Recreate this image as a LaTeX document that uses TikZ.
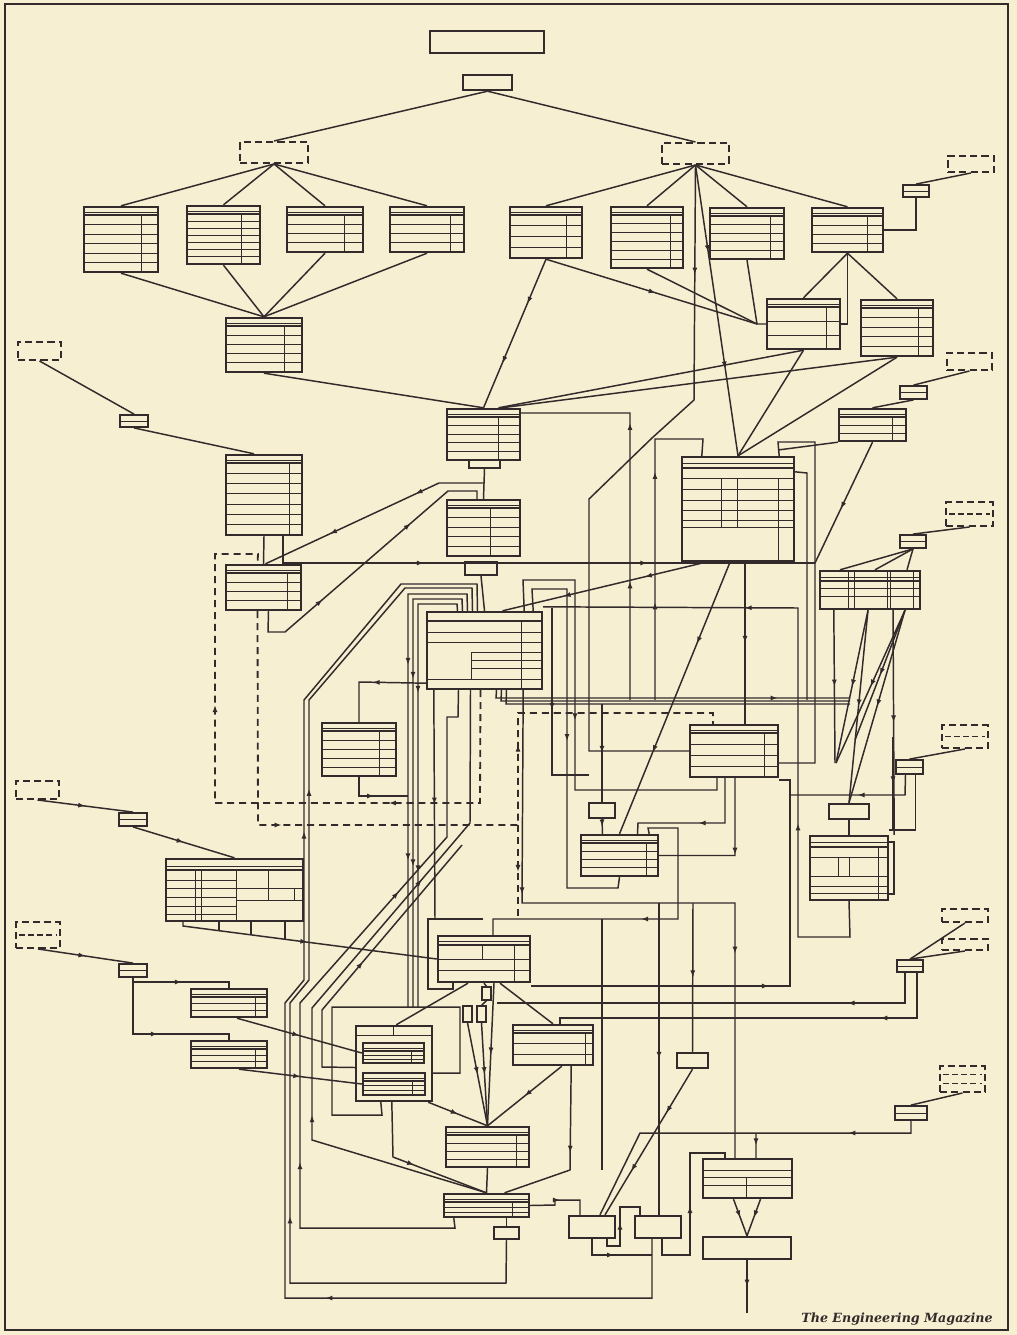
\documentclass[tikz,border=0pt]{standalone}
\usepackage{fontspec}
\usetikzlibrary{arrows.meta, positioning, calc, fit, decorations.markings}
\newfontfamily\creditfont{DejaVu Serif}
\definecolor{paper}{HTML}{F6EFD2}
\definecolor{ink}{HTML}{332B2B}

\tikzset{
  formbox/.style={draw=ink, line width=1.7pt, inner sep=0pt},
  plainbox/.style={draw=ink, line width=1.7pt, inner sep=0pt},
  slip/.style={draw=ink, line width=1.4pt, dash pattern=on 5pt off 3pt, inner sep=0pt},
  slipline/.style={draw=ink, line width=1.1pt, dash pattern=on 4pt off 2.5pt},
  rule/.style={draw=ink, line width=0.7pt},
  wire/.style={draw=ink, line width=1.05pt},
  dwire/.style={draw=ink, line width=1.3pt, dash pattern=on 5pt off 3.5pt},
  flow/.style={postaction={decorate}, decoration={markings,
      mark=at position #1 with {\arrow[ink]{Latex[length=5pt,width=3.6pt]}}}},
  flow/.default=0.5,
  flow2/.style={postaction={decorate}, decoration={markings,
      mark=at position 0.3 with {\arrow[ink]{Latex[length=5pt,width=3.6pt]}},
      mark=at position 0.7 with {\arrow[ink]{Latex[length=5pt,width=3.6pt]}}}},
  credit/.style={text=ink, inner sep=0pt, font=\creditfont\fontsize{9}{11}\selectfont\bfseries\itshape}
}

% ruled form: name, x1, y1, x2, y2, rows, position of the column rule
\newcommand{\formbox}[7]{%
  \node[formbox, fit={(#2,#3) (#4,#5)}] (#1) {};
  \draw[rule] (#2,#3+5) -- (#4,#3+5);
  \draw[rule, line width=1.2pt] (#2,#3+8) -- (#4,#3+8);
  \foreach \k in {1,...,#6}
    \draw[rule] (#2,{#3+8+\k*(#5-#3-8)/(#6+1)}) -- (#4,{#3+8+\k*(#5-#3-8)/(#6+1)});
  \draw[rule] ({#2+#7*(#4-#2)},#3+8) -- ({#2+#7*(#4-#2)},#5);
}
% dashed slip: name, x1, y1, x2, y2, inner rows
\newcommand{\slipbox}[6]{%
  \node[slip, fit={(#2,#3) (#4,#5)}] (#1) {};
  \ifnum#6>0
    \foreach \k in {1,...,#6}
      \draw[slipline] (#2+3,{#3+\k*(#5-#3)/(#6+1)}) -- (#4-3,{#3+\k*(#5-#3)/(#6+1)});
  \fi
}
% small tab with a middle rule
\newcommand{\tabbox}[5]{%
  \node[plainbox, line width=1.3pt, fit={(#2,#3) (#4,#5)}] (#1) {};
  \draw[rule] (#2,{(#3+#5)/2}) -- (#4,{(#3+#5)/2});
}

\begin{document}
\begin{tikzpicture}[x=0.025cm, y=-0.025cm]
  \useasboundingbox (0,0) rectangle (1017,1335);
  \fill[paper] (0,0) rectangle (1017,1335);
  \draw[ink, line width=2pt] (5,4) rectangle (1008,1330);

  % plain boxes
  \node[plainbox, fit={(430,31) (544,53)}] (title) {};
  \node[plainbox, fit={(463,75) (512,90)}] (head) {};
  \node[plainbox, fit={(589,803) (615,818)}] (O) {};
  \node[plainbox, fit={(829,804) (869,819)}] (Q) {};
  \node[plainbox, fit={(677,1053) (708,1068)}] (AC) {};
  \node[plainbox, fit={(569,1216) (615,1238)}] (Z1) {};
  \node[plainbox, fit={(635,1216) (681,1238)}] (Z2) {};
  \node[plainbox, fit={(703,1237) (791,1259)}] (final) {};
  \node[plainbox, line width=1.3pt, fit={(494,1227) (519,1239)}] (Ysmall) {};
  \node[plainbox, line width=1.3pt, fit={(469,460) (500,468)}] (H1tab) {};
  \node[plainbox, line width=1.3pt, fit={(465,562) (497,575)}] (H2tab) {};
  \node[plainbox, line width=1pt, fit={(463,1006) (472,1022)}] (tinyA) {};
  \node[plainbox, line width=1pt, fit={(477,1006) (486,1022)}] (tinyB) {};
  \node[plainbox, line width=1pt, fit={(482,987) (491,1000)}] (tinyC) {};

  % dashed slips
  \slipbox{dL}{240}{142}{308}{163}{0}
  \slipbox{dR}{662}{143}{729}{164}{0}
  \slipbox{dTR}{948}{156}{994}{172}{0}
  \slipbox{dL2}{18}{342}{61}{360}{0}
  \slipbox{dR2}{947}{353}{992}{370}{0}
  \slipbox{dR3}{946}{502}{993}{526}{1}
  \slipbox{dR4}{942}{725}{988}{748}{1}
  \slipbox{dL3}{16}{781}{59}{799}{0}
  \slipbox{dL4}{16}{922}{60}{948}{1}
  \slipbox{dR5a}{942}{909}{988}{922}{0}
  \slipbox{dR5b}{942}{939}{988}{950}{0}
  \slipbox{dR6}{940}{1066}{985}{1092}{2}

  % tabs
  \tabbox{tTR}{903}{185}{929}{197}
  \tabbox{tL2}{120}{415}{148}{427}
  \tabbox{tR2}{900}{386}{927}{399}
  \tabbox{tR3}{900}{535}{926}{548}
  \tabbox{tR4}{896}{760}{923}{774}
  \tabbox{tL3}{119}{813}{147}{826}
  \tabbox{tL4}{119}{964}{147}{977}
  \tabbox{tR5}{897}{960}{923}{972}
  \tabbox{tR6}{895}{1106}{927}{1120}

  % ruled forms
  \formbox{A1}{84}{207}{158}{272}{5}{0.78}
  \formbox{A2}{187}{206}{260}{264}{6}{0.75}
  \formbox{A3}{287}{207}{363}{252}{3}{0.76}
  \formbox{A4}{390}{207}{464}{252}{3}{0.82}
  \formbox{B1}{510}{207}{582}{258}{3}{0.78}
  \formbox{B2}{611}{207}{683}{268}{5}{0.82}
  \formbox{B3}{710}{208}{784}{259}{4}{0.82}
  \formbox{B4}{812}{208}{883}{252}{3}{0.78}
  \formbox{C}{226}{318}{302}{372}{4}{0.77}
  \formbox{D1}{767}{299}{840}{349}{2}{0.82}
  \formbox{D2}{861}{300}{933}{356}{4}{0.8}
  \formbox{H1}{447}{409}{520}{460}{4}{0.7}
  \formbox{E}{839}{409}{906}{441}{2}{0.8}
  \formbox{F}{226}{455}{302}{535}{6}{0.83}
  \formbox{H2}{447}{500}{520}{556}{4}{0.6}
  \formbox{G}{226}{565}{301}{610}{3}{0.82}
  \formbox{J}{322}{723}{396}{776}{4}{0.78}
  \formbox{N}{690}{725}{778}{777}{3}{0.85}
  \formbox{P}{581}{835}{658}{876}{3}{0.85}
  \formbox{T1}{191}{989}{267}{1017}{2}{0.85}
  \formbox{T2}{191}{1041}{267}{1068}{2}{0.85}
  \formbox{V1}{363}{1043}{424}{1063}{2}{0.8}
  \formbox{V2}{363}{1073}{425}{1095}{2}{0.8}
  \formbox{W}{513}{1025}{593}{1065}{2}{0.9}
  \formbox{X}{446}{1127}{529}{1167}{3}{0.85}
  \formbox{Y}{444}{1194}{529}{1217}{2}{0.8}

  % K
  \node[formbox, fit={(682,457) (794,561)}] (K) {};
  \draw[rule] (682,463) -- (794,463);
  \draw[rule, line width=1.2pt] (682,468) -- (794,468);
  \foreach \yy in {478,489,500,510,520,527} \draw[rule] (682,\yy) -- (794,\yy);
  \draw[rule] (721,478) -- (721,527); \draw[rule] (737,478) -- (737,527);
  \draw[rule] (778,478) -- (778,561);
  % I
  \node[formbox, fit={(427,612) (542,689)}] (I) {};
  \draw[rule, line width=1.2pt] (427,621) -- (542,621);
  \foreach \yy in {632,642,679} \draw[rule] (427,\yy) -- (542,\yy);
  \foreach \yy in {652,660,668} \draw[rule] (471,\yy) -- (542,\yy);
  \draw[rule] (471,652) -- (471,679); \draw[rule] (521,621) -- (521,689);
  % S
  \node[formbox, fit={(166,859) (303,921)}] (S) {};
  \draw[rule] (166,866) -- (303,866);
  \draw[rule, line width=1.2pt] (166,870) -- (303,870);
  \foreach \yy in {880,888,897,906,914} \draw[rule] (166,\yy) -- (236,\yy);
  \foreach \yy in {888,900} \draw[rule] (236,\yy) -- (303,\yy);
  \foreach \xx in {195,201,236} \draw[rule] (\xx,870) -- (\xx,921);
  \draw[rule] (268,870) -- (268,900); \draw[rule] (294,888) -- (294,900);
  % M
  \node[formbox, fit={(820,571) (920,609)}] (M) {};
  \draw[rule] (820,577) -- (920,577);
  \draw[rule, line width=1.2pt] (820,581) -- (920,581);
  \foreach \yy in {588,596} \draw[rule] (820,\yy) -- (920,\yy);
  \foreach \xx in {848,854,887,890,913} \draw[rule] (\xx,571) -- (\xx,609);
  % U
  \node[formbox, fit={(438,936) (530,982)}] (U) {};
  \draw[rule] (438,941) -- (530,941);
  \draw[rule, line width=1.2pt] (438,945) -- (530,945);
  \foreach \yy in {959,970} \draw[rule] (438,\yy) -- (530,\yy);
  \draw[rule] (482,945) -- (482,959); \draw[rule] (514,945) -- (514,982);
  % R
  \node[formbox, fit={(810,836) (888,900)}] (R) {};
  \draw[rule] (810,842) -- (888,842);
  \draw[rule, line width=1.2pt] (810,847) -- (888,847);
  \foreach \yy in {857,876,886,893} \draw[rule] (810,\yy) -- (888,\yy);
  \draw[rule] (838,857) -- (838,876); \draw[rule] (849,857) -- (849,876);
  \draw[rule] (878,847) -- (878,900);
  \draw[rule, line width=1.1pt] (888,842) -- (894,842) -- (894,894) -- (888,894);
  % AA
  \node[formbox, fit={(703,1159) (792,1198)}] (AA) {};
  \foreach \yy in {1170,1177,1185} \draw[rule] (703,\yy) -- (792,\yy);
  \draw[rule] (746,1177) -- (746,1198);
  % V
  \node[formbox, fit={(356,1026) (432,1101)}] (V) {};
  \draw[rule] (356,1035) -- (432,1035); \draw[rule] (393,1026) -- (393,1035);

  \node[credit, anchor=base east] (credit) at (993,1322) {The Engineering Magazine};

  % top tree
  \draw[wire] (head.south) -- (dL.north);
  \draw[wire] (head.south) -- (dR.north);
  \foreach \n in {A1,A2,A3,A4} {
    \draw[wire] (dL.south) -- (\n.north);
    \draw[wire] (\n.south) -- (C.north);
  }
  \foreach \n in {B1,B2,B3,B4} \draw[wire] (dR.south) -- (\n.north);
  \draw[wire] (dTR.south) -- (tTR.north);
  \draw[wire] (tTR.south) |- (B4.east);
  \draw[wire] (B4.south) -- (D1.north);
  \draw[wire] (B4.south) -- (D2.north);
  \draw[wire] (B4.south) |- (D1.east);
  \draw[wire, flow] (B1.south) -- (757,324) -- (D1.west);
  \draw[wire] (B2.south) -- (757,324);
  \draw[wire] (B3.south) -- (757,324);
  \draw[wire, flow2] (B1.south) -- (H1.north);
  \draw[wire] (C.south) -- (H1.north);
  \draw[wire] (D1.south) -- ($(H1.north)+(15,0)$);
  \draw[wire] (D2.south) -- ($(H1.north)+(18,0)$);
  \draw[wire] (D1.south) -- (K.north);
  \draw[wire] (D2.south) -- (K.north);
  \draw[wire, flow2] (dR.south) -- (K.north);
  \draw[wire, flow=0.15] (dR.south) -- (694,400) -- (652,438) -- (589,499) -- (589,751) -- (N.west);

  % right tabs
  \draw[wire] (dR2.south) -- (tR2.north);
  \draw[wire] (tR2.south) -- (E.north);
  \draw[wire, flow=0.2] (E.south) -- (815,563) -- (815,763) -- ($(N.east)+(0,12)$);
  \draw[wire] (E.south west) -- (778,450);
  \draw[wire, flow2] ($(F.south)+(19,0)$) -- (283,563) -- (815,563);
  \draw[wire] (dR3.south) -- (tR3.north);
  \foreach \dx in {-30,5,37} \draw[wire] (tR3.south) -- ($(M.north)+(\dx,0)$);
  \draw[wire, flow] ($(M.south)+(-2,0)$) -- (Q.north);
  \draw[wire, flow] ($(M.south)+(35,0)$) -- (Q.north);
  \draw[wire, flow] ($(M.south)+(-2,0)$) -- (836,763);
  \draw[wire, flow] ($(M.south)+(35,0)$) -- (836,763);
  \draw[wire, flow] ($(M.south)+(35,0)$) -- (855,740);
  \draw[wire, flow] ($(M.south west)+(15,0)$) -- (835,763);
  \draw[wire, flow] ($(M.south)+(23,0)$) -- ($(R.north east)+(5,0)$);
  \draw[wire] (dR4.south) -- (tR4.north);
  \draw[wire, flow] ($(tR4.south)+(-4,0)$) -- (905,795) -- (790,795);
  \draw[wire] ($(tR4.south)+(6,0)$) |- ($(R.east)+(0,-38)$);
  \draw[wire] (Q.south) -- (R.north);
  \draw[wire, flow2] (R.south) -- (850,937) -- (798,937) -- (798,608) -- ($(I.north east)+(0,-4)$);

  % K links
  \draw[wire, flow2] ($(K.south)+(-8,0)$) -- (P.north);
  \draw[wire, flow] ($(K.south)+(7,0)$) -- ($(N.north)+(11,0)$);
  \draw[wire, flow2] ($(K.south west)+(25,0)$) -- ($(I.north)+(18,0)$);
  \draw[wire, flow2] (655,700) -- (655,439) -- (703,439) -- ($(K.north west)+(21,0)$);
  \draw[wire, flow2] (630,700) -- (630,413) -- ($(H1.east)+(0,-21.5)$);
  \draw[wire] ($(K.north east)+(-16,0)$) -- (778,442) -- (815,442) -- (815,563);
  \draw[wire] ($(K.north east)+(0,16)$) -- (807,473) -- (807,700);

  % H1, H2, F, G
  \draw[wire] (H1tab.south) -- (H2.north);
  \draw[wire] (H2tab.south) -- (I.north);
  \draw[wire, flow2] (484,483) -- (439,483) -- ($(G.north)+(2,0)$);
  \draw[wire, flow2] ($(G.south)+(5,0)$) -- (268,632) -- (285,632) -- (448,491) -- (477,491) -- (477,500);
  \draw[wire] (dL2.south) -- (tL2.north);
  \draw[wire] (tL2.south) -- ($(F.north)+(-10,0)$);
  \draw[wire] (F.south) -- (G.north);

  % dashed returns
  \draw[dwire, flow2] ($(I.south)+(-4,0)$) -- (480,803) -- (215,803) -- (215,554) -- (258,554) -- ($(G.north)+(-6,0)$);
  \draw[dwire, flow2] ($(G.south)+(-6,0)$) -- (258,825) -- (518,825) -- (518,713) -- (713,713) -- ($(N.north)+(-21,0)$);
  \draw[dwire, flow] (518,825) -- (518,919);

  % bundle round the left
  \draw[wire, flow2] (Ysmall.south) -- (506,1283) -- (290,1283) -- (290,1003) -- (309,980) -- (309,700) -- (405,588) -- (472,588) -- ($(I.north)+(-12,0)$);
  \draw[wire, flow2] ($(Z2.south)+(-6,0)$) -- (652,1298) -- (285,1298) -- (285,1003) -- (304,980) -- (304,700) -- (401,584) -- (477,584) -- ($(I.north)+(-7,0)$);
  \draw[wire, flow2] ($(I.north)+(-17,0)$) -- (467,594) -- (408,594) -- (408,1007);
  \draw[wire, flow2] ($(I.north)+(-22,0)$) -- (462,599) -- (413,599) -- (413,1007);
  \draw[wire, flow2] ($(I.north)+(-27,0)$) -- (457,604) -- (418,604) -- (418,1007);
  \draw[wire, flow] ($(I.south west)+(0,-7)$) -- (359,682) -- (J.north);
  \draw[wire, flow] (J.south) -- (359,796) -- (408,796);
  \draw[wire] ($(V.south west)+(26,0)$) -- (382,1115) -- (332,1115) -- (332,1007) -- (460,1007) -- (460,1073) -- ($(V.east)+(0,9.5)$);
  \draw[wire, flow2] ($(Y.south west)+(11,0)$) -- (455,1228) -- (300,1228) -- (300,1003) -- (447,837) -- (447,717) -- (458,717) -- ($(I.south)+(-26,0)$);
  \draw[wire, flow2] (Y.north) -- (312,1140) -- (312,1008) -- (453,843) -- (470,823) -- ($(I.south)+(-14,0)$);
  \draw[wire, flow] ($(V.west)+(0,4)$) -- (322,1067) -- (322,1010) -- (462,845);
  \draw[wire, flow] ($(I.south west)+(8,0)$) -- (435,919);
  \draw[wire] (483,919) -- (428,919) -- (428,989) -- (453,989) -- ($(U.south)+(-31,0)$);

  % left feeds
  \draw[wire, flow] (dL3.south) -- (tL3.north);
  \draw[wire, flow] (tL3.south) -- (S.north);
  \foreach \sx/\sy in {219/931,251/935,285/939} \draw[wire] (\sx,921) -- (\sx,\sy);
  \draw[wire, flow] (183,921) -- (183,926) -- (U.west);
  \draw[wire, flow] (dL4.south) -- (tL4.north);
  \draw[wire, flow] (tL4.south) -- (133,982) -- (229,982) -- (T1.north);
  \draw[wire, flow] (133,982) -- (133,1034) -- (229,1034) -- (T2.north);
  \draw[wire, flow] ($(T1.south)+(8,0)$) -- (V1.west);
  \draw[wire, flow] ($(T2.south)+(10,0)$) -- (V2.west);

  % centre bottom
  \draw[wire] ($(V.north east)+(-37,0)$) -- ($(U.south)+(-16,0)$);
  \draw[wire] ($(U.south)+(16,0)$) -- (W.north);
  \draw[wire] (tinyC.north) -- (U.south);
  \draw[wire] (tinyC.south) -- (tinyB.north);
  \draw[wire, flow] (tinyA.south) -- (X.north);
  \draw[wire, flow] (tinyB.south) -- (X.north);
  \draw[wire, flow] ($(U.south)+(10,0)$) -- (X.north);
  \draw[wire, flow] ($(V.south east)+(-5,0)$) -- (X.north);
  \draw[wire, flow] ($(W.south west)+(50,0)$) -- (X.north);
  \draw[wire] (X.south) -- (Y.north);
  \draw[wire, flow] ($(V.south west)+(37,0)$) -- (393,1157) -- (Y.north);
  \draw[wire, flow] ($(W.south east)+(-23,0)$) -- (570,1170) -- ($(Y.north)+(18,0)$);
  \draw[wire] ($(Y.south)+(20,0)$) -- (Ysmall.north);

  % bottom right
  \draw[wire, flow] (Y.east) -- (555,1205) -- (555,1200) -- (580,1200) -- ($(Z1.north)+(-12,0)$);
  \draw[wire, flow] ($(Z1.south)+(15,0)$) -- (607,1246) -- (620,1246) -- (620,1207) -- (640,1207) -- ($(Z2.north)+(-18,0)$);
  \draw[wire, flow] (Z1.south) -- (592,1255) -- (652,1255);
  \draw[wire, flow] ($(Z2.south)+(4,0)$) -- (662,1255) -- (690,1255) -- (690,1153) -- (725,1153) -- ($(AA.north)+(-22.5,0)$);
  \draw[wire, flow] ($(AA.south)+(-14,0)$) -- (final.north);
  \draw[wire, flow] ($(AA.south)+(13,0)$) -- (final.north);
  \draw[wire, flow] (final.south) -- ++(0,53);
  \draw[wire] (dR5a.south) -- (tR5.north);
  \draw[wire] (dR5b.south) -- (tR5.north);
  \draw[wire, flow=0.2] ($(tR5.south)+(-5,0)$) -- (905,1003) -- (497,1003);
  \draw[wire, flow=0.2] ($(tR5.south)+(7,0)$) -- (917,1018) -- (560,1018) -- (560,1025);
  \draw[wire] (dR6.south) -- (tR6.north);
  \draw[wire, flow=0.2] (tR6.south) -- (911,1133) -- (640,1133) -- ($(Z1.north)+(8,0)$);
  \draw[wire, flow] (756,1133) -- ($(AA.north)+(8.5,0)$);
  \draw[wire, flow2] (AC.south) -- ($(Z1.north)+(13,0)$);

  % middle buses
  \draw[wire, flow2] ($(I.south east)+(-20,0)$) -- (522,903) -- (735,903) -- ($(AA.north)+(-12.5,0)$);
  \draw[wire, flow] (693,903) -- (AC.north);
  \draw[wire, flow] (659,903) -- ($(Z2.north)+(1,0)$);
  \draw[wire, flow] ($(P.north east)+(-10,0)$) -- (648,828) -- (678,828) -- (678,919) -- (493,919) -- ($(U.north)+(9,0)$);
  \draw[wire] (602,919) -- (602,1170);
  \draw[wire, flow] ($(U.east)+(0,27)$) -- (790,986) -- (790,780) -- ($(N.east)+(0,29)$);
  \draw[wire, flow] ($(N.south)+(-9,0)$) -- (725,823) -- (638,823) -- ($(P.north)+(18,0)$);
  \draw[wire, flow] ($(N.south)+(1,0)$) -- (735,855.5) -- (P.east);
  \draw[wire, flow] (602,704) -- (O.north);
  \draw[wire, flow] (O.south) -- ($(P.north)+(-17,0)$);
  \draw[wire, flow] ($(I.north east)+(-10,0)$) -- (532,589) -- (567,589) -- (567,888) -- (618,888) -- (P.south);
  \draw[wire, flow] ($(I.north east)+(-19,0)$) -- (523,580) -- (575,580) -- (575,790) -- (717,790) -- ($(N.south)+(-17,0)$);
  \draw[wire, flow=0.8] ($(I.south)+(12,0)$) -- (496,698) -- (850,698);
  \draw[wire] ($(I.south)+(17,0)$) -- (501,701) -- (850,701);
  \draw[wire] ($(I.south)+(22,0)$) -- (506,704) -- (850,704);
  \draw[wire, flow] (552,608) -- (552,775) -- (589,775);
  \draw[wire, flow] (893,737) -- (893,830);
\end{tikzpicture}
\end{document}
